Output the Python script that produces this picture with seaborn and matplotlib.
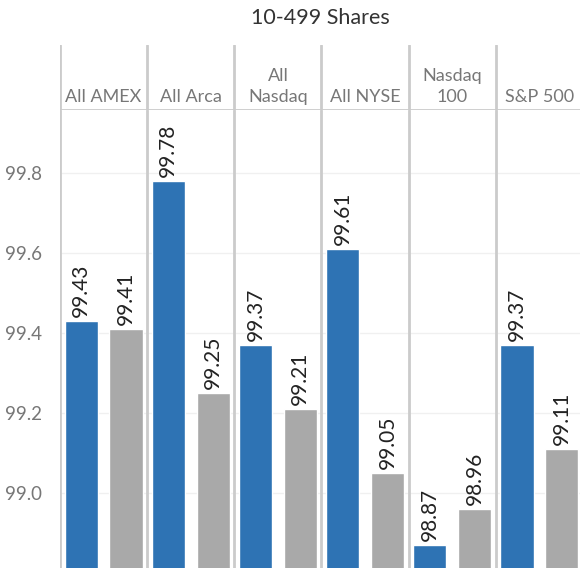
import numpy as np
import pandas as pd
import matplotlib
matplotlib.use("Agg")
from matplotlib import pyplot as plt
import seaborn as sns

panels = ["All AMEX", "All Arca", "All\nNasdaq", "All NYSE", "Nasdaq\n100", "S&P 500"]
series = ["Series A", "Series B"]
blue_vals = [99.43, 99.78, 99.37, 99.61, 98.87, 99.37]
gray_vals = [99.41, 99.25, 99.21, 99.05, 98.96, 99.11]
y_ticks = [99.0, 99.2, 99.4, 99.6, 99.8]

BLUE = "#2e73b4"
GRAY = "#a9a9a9"
LINE = "#cbcbcb"

df = pd.DataFrame({
    "panel": panels * 2,
    "series": [series[0]] * len(panels) + [series[1]] * len(panels),
    "value": blue_vals + gray_vals,
})

sns.set_style("white")
plt.rcParams["font.family"] = ["Lato", "DejaVu Sans"]

W, H = 580, 570
fig = plt.figure(figsize=(W / 100, H / 100), dpi=100)

# main plot area (right edge runs a little past the picture)
left, right, top, bottom = 60, 583, 110, 568
ax = fig.add_axes([left / W, 1 - bottom / H, (right - left) / W, (bottom - top) / H])
# header band
hx = fig.add_axes([left / W, 1 - top / H, (right - left) / W, (top - 45) / H])

sns.barplot(data=df, x="panel", y="value", hue="series", order=panels,
            hue_order=series, palette=[BLUE, GRAY], width=1.03, gap=0.26,
            legend=False, ax=ax, saturation=1)

ax.set_ylim(98.812, 99.957)
ax.set_xlim(-0.5, len(panels) - 0.5)
ax.set_yticks(y_ticks)
ax.set_yticklabels(["%.1f" % t for t in y_ticks], color="#777777", fontsize=13.5)
ax.tick_params(axis="y", length=0, pad=13)
ax.set_xticks([])
ax.set_xlabel("")
ax.set_ylabel("")
for s in ax.spines.values():
    s.set_visible(False)
for t in y_ticks:
    ax.axhline(t, color="#f0f0f0", lw=1, zorder=0)
for i in range(len(panels) + 1):
    ax.axvline(i - 0.5, color=LINE, lw=2, zorder=3)

for cont in ax.containers:
    ax.bar_label(cont, fmt="%.2f", rotation=90, padding=3, fontsize=15, color="#222222")

hx.set_xlim(-0.5, len(panels) - 0.5)
hx.set_ylim(0, 1)
hx.axis("off")
for i in range(len(panels) + 1):
    hx.axvline(i - 0.5, color=LINE, lw=2)
hx.axhline(0, color=LINE, lw=2)
for i, p in enumerate(panels):
    hx.text(i, 0.07, p, ha="center", va="bottom", fontsize=13, color="#777777",
            linespacing=1.45)

fig.text(320 / W, 1 - 18 / H, "10-499 Shares", ha="center", va="center",
         fontsize=15.5, color="#333333")

fig.savefig("out.png", dpi=100)
